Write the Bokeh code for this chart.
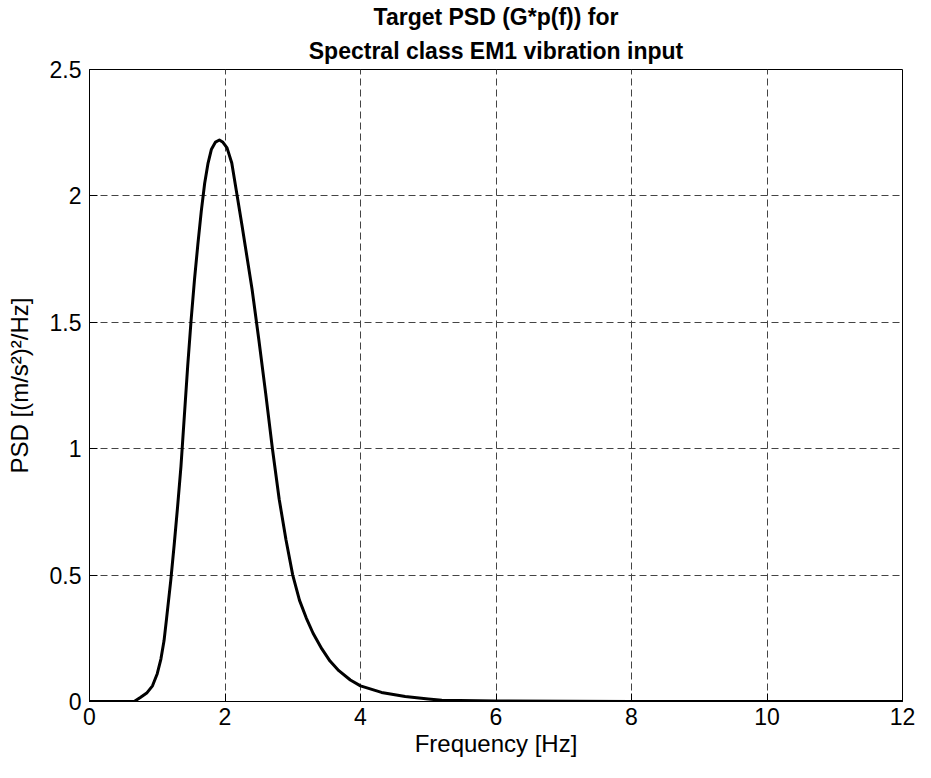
from bokeh.plotting import figure
from bokeh.models import Range1d, FixedTicker, Title
from bokeh.embed import file_html
from bokeh.resources import INLINE

# Frequency [Hz] and PSD values
freq = [0.0, 0.3, 0.66, 0.75, 0.85, 0.93, 1.0, 1.054, 1.1, 1.137, 1.2, 1.25, 1.3,
        1.35, 1.4, 1.45, 1.5, 1.55, 1.6, 1.65, 1.7, 1.75, 1.8, 1.86, 1.917, 1.97,
        2.03, 2.1, 2.18, 2.25, 2.3, 2.4, 2.5, 2.6, 2.7, 2.8, 2.9, 3.0, 3.1, 3.2,
        3.3, 3.43, 3.55, 3.68, 3.85, 4.0, 4.31, 4.66, 5.0, 5.2, 6.0, 8.0, 10.0, 12.0]
psd = [0.0, 0.0, 0.0, 0.016, 0.035, 0.062, 0.11, 0.168, 0.24, 0.327, 0.48, 0.62,
       0.77, 0.93, 1.13, 1.33, 1.51, 1.67, 1.81, 1.94, 2.05, 2.13, 2.185, 2.213,
       2.221, 2.212, 2.19, 2.13, 2.0, 1.885, 1.80, 1.63, 1.43, 1.22, 1.0, 0.80,
       0.64, 0.50, 0.40, 0.33, 0.27, 0.208, 0.16, 0.122, 0.085, 0.062, 0.036,
       0.020, 0.010, 0.005, 0.002, 0.0, 0.0, 0.0]

x_ticks = [0, 2, 4, 6, 8, 10, 12]
y_ticks = [0, 0.5, 1, 1.5, 2, 2.5]
y_tick_labels = ["0", "0.5", "1", "1.5", "2", "2.5"]

title_lines = ["Target PSD (G*p(f)) for", "Spectral class EM1 vibration input"]
x_label = "Frequency [Hz]"
y_label = "PSD [(m/s²)²/Hz]"

FONT = "Liberation Sans"

p = figure(width=915, height=762, output_backend="svg", toolbar_location=None,
           x_range=Range1d(0, 12), y_range=Range1d(0, 2.5),
           min_border_left=89, min_border_right=13, min_border_bottom=61,
           min_border_top=69)
p.title = None
# first added sits closest to the plot frame
p.add_layout(Title(text=title_lines[1], align="center", text_font=FONT,
                   text_font_size="23px", text_font_style="bold",
                   text_color="black", standoff=12, text_line_height=0.9), "above")
p.add_layout(Title(text=title_lines[0], align="center", text_font=FONT,
                   text_font_size="23px", text_font_style="bold",
                   text_color="black", standoff=0, text_line_height=0.9), "above")

p.line(freq, psd, line_color="black", line_width=3, line_join="round")

p.xaxis.ticker = FixedTicker(ticks=x_ticks)
p.yaxis.ticker = FixedTicker(ticks=y_ticks)
p.yaxis.major_label_overrides = {t: l for t, l in zip(y_ticks, y_tick_labels)}
p.xaxis.axis_label = x_label
p.yaxis.axis_label = y_label

for ax in (p.xaxis, p.yaxis):
    ax.axis_label_text_font = FONT
    ax.axis_label_text_font_size = "24px"
    ax.axis_label_text_font_style = "normal"
    ax.axis_label_text_color = "black"
    ax.major_label_text_font = FONT
    ax.major_label_text_font_size = "23px"
    ax.major_label_text_color = "black"
    ax.major_tick_in = 8
    ax.major_tick_out = 0
    ax.minor_tick_line_color = None
    ax.axis_line_color = "black"
    ax.major_tick_line_color = "black"
p.xaxis.major_label_standoff = 6
p.xaxis.axis_label_standoff = 2
p.yaxis.major_label_standoff = 8
p.yaxis.axis_label_standoff = 14

p.grid.grid_line_color = "#444444"
p.grid.grid_line_dash = "7 4"
p.grid.grid_line_width = 1
p.outline_line_color = "black"
p.outline_line_alpha = 1
p.outline_line_width = 1
p.background_fill_color = "white"
p.border_fill_color = "white"

open("out.html", "w").write(file_html(p, INLINE))
